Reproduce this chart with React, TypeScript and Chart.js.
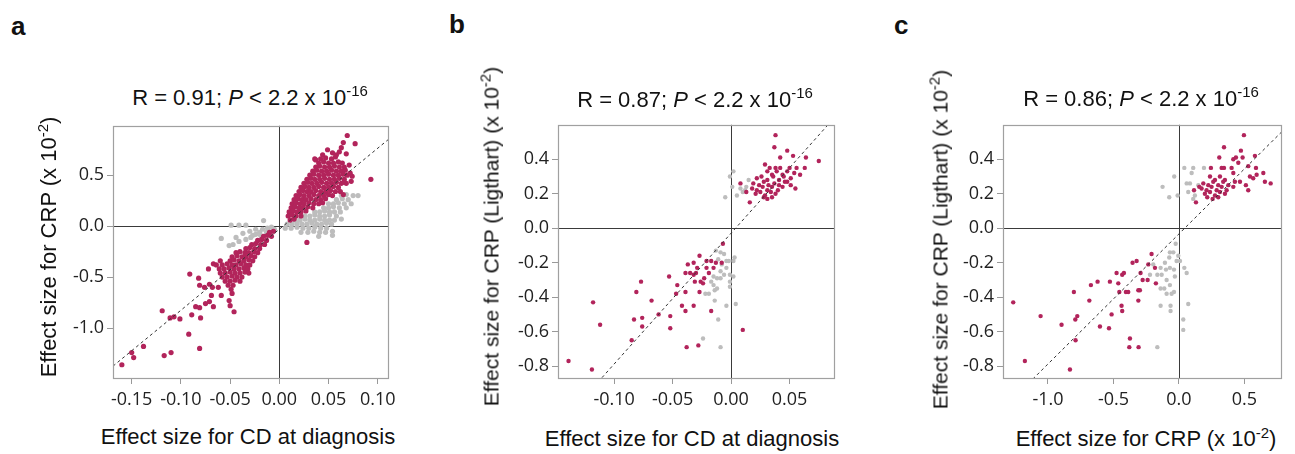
import React, { useEffect, useRef } from "react";
import { Chart, registerables } from "chart.js";

Chart.register(...registerables);

type Pt = [number, number];

// ---------- tick labels ----------
const A_X_TICKS = [-0.15, -0.1, -0.05, 0, 0.05, 0.1];
const A_Y_TICKS = [-1.0, -0.5, 0, 0.5];
const B_X_TICKS = [-0.1, -0.05, 0, 0.05];
const B_Y_TICKS = [-0.8, -0.6, -0.4, -0.2, 0, 0.2, 0.4];
const C_X_TICKS = [-1.0, -0.5, 0, 0.5];
const C_Y_TICKS = [-0.8, -0.6, -0.4, -0.2, 0, 0.2, 0.4];

// ---------- fit lines (slope, intercept) ----------
const A_FIT = [7.95, -0.03];
const B_FIT = [7.59, -0.029];
const C_FIT = [0.755, -0.033];

// ---------- panel a ----------
const A_GRAY: Pt[] = [
  [-0.059, -0.12], [-0.049, 0.01], [-0.041, 0.01], [-0.034, 0.01], [-0.016, 0.055],
  [-0.037, -0.07], [-0.03, -0.05], [-0.024, -0.03], [-0.017, -0.03], [-0.012, -0.02],
  [-0.008, -0.01], [-0.005, -0.03], [-0.013, -0.06], [-0.01, -0.07], [-0.02, -0.06],
  [-0.027, -0.09], [-0.034, -0.13], [-0.041, -0.15], [-0.047, -0.18], [-0.051, -0.19],
  [-0.044, -0.11], [-0.029, -0.11], [-0.019, -0.09], [-0.007, -0.06], [-0.024, -0.08],
  [0.063, 0.3], [0.068, 0.31], [0.075, 0.3], [0.08, 0.3],
  [0.058, 0.26], [0.064, 0.27], [0.07, 0.26],
  [0.05, 0.22], [0.055, 0.22], [0.06, 0.23], [0.066, 0.22], [0.073, 0.22],
  [0.045, 0.18], [0.05, 0.18], [0.055, 0.19], [0.061, 0.18], [0.068, 0.18],
  [0.036, 0.14], [0.041, 0.14], [0.046, 0.15], [0.051, 0.14], [0.056, 0.14], [0.062, 0.14],
  [0.026, 0.1], [0.031, 0.1], [0.036, 0.11], [0.041, 0.1], [0.046, 0.1], [0.051, 0.11], [0.058, 0.1], [0.063, 0.07],
  [0.016, 0.06], [0.021, 0.06], [0.026, 0.07], [0.031, 0.06], [0.036, 0.06], [0.041, 0.07], [0.046, 0.06], [0.051, 0.06], [0.056, 0.06],
  [0.008, 0.02], [0.013, 0.02], [0.018, 0.03], [0.023, 0.02], [0.028, 0.02], [0.033, 0.03], [0.038, 0.02], [0.043, 0.02], [0.048, 0.03], [0.053, 0.02],
  [0.006, -0.02], [0.012, -0.02], [0.018, -0.01], [0.024, -0.02], [0.03, -0.02], [0.036, -0.01], [0.042, -0.02], [0.048, -0.02],
  [0.022, -0.06], [0.029, -0.06], [0.035, -0.05], [0.041, -0.06], [0.047, -0.06], [0.054, -0.05],
  [0.04, -0.1], [0.054, -0.09],
];
const A_RED: Pt[] = [
  // upper-right cluster
  [0.036, 0.66], [0.042, 0.66], [0.047, 0.67], [0.053, 0.66],
  [0.04, 0.62], [0.045, 0.63], [0.05, 0.62], [0.055, 0.62], [0.06, 0.63], [0.064, 0.62],
  [0.037, 0.58], [0.041, 0.59], [0.046, 0.58], [0.051, 0.58], [0.056, 0.59], [0.061, 0.58], [0.066, 0.58],
  [0.034, 0.54], [0.038, 0.55], [0.043, 0.54], [0.048, 0.54], [0.053, 0.55], [0.058, 0.54], [0.063, 0.54], [0.067, 0.55],
  [0.031, 0.5], [0.035, 0.51], [0.04, 0.5], [0.045, 0.5], [0.05, 0.51], [0.055, 0.5], [0.06, 0.5], [0.065, 0.51], [0.069, 0.5],
  [0.028, 0.46], [0.032, 0.47], [0.036, 0.46], [0.041, 0.46], [0.046, 0.47], [0.051, 0.46], [0.056, 0.46], [0.061, 0.47], [0.066, 0.46],
  [0.025, 0.42], [0.029, 0.43], [0.033, 0.42], [0.038, 0.42], [0.043, 0.43], [0.048, 0.42], [0.053, 0.42], [0.058, 0.43], [0.063, 0.42], [0.068, 0.42],
  [0.022, 0.38], [0.026, 0.39], [0.03, 0.38], [0.035, 0.38], [0.04, 0.39], [0.045, 0.38], [0.05, 0.38], [0.055, 0.39], [0.06, 0.38],
  [0.02, 0.34], [0.024, 0.35], [0.028, 0.34], [0.032, 0.34], [0.037, 0.35], [0.042, 0.34], [0.047, 0.34], [0.052, 0.35], [0.057, 0.34], [0.062, 0.34],
  [0.017, 0.3], [0.021, 0.31], [0.025, 0.3], [0.03, 0.3], [0.035, 0.31], [0.04, 0.3], [0.045, 0.3], [0.05, 0.31], [0.054, 0.3],
  [0.015, 0.26], [0.019, 0.27], [0.023, 0.26], [0.027, 0.26], [0.032, 0.27], [0.037, 0.26], [0.042, 0.26], [0.047, 0.27],
  [0.013, 0.22], [0.017, 0.23], [0.021, 0.22], [0.025, 0.22], [0.03, 0.23], [0.035, 0.22], [0.04, 0.22], [0.044, 0.23],
  [0.012, 0.18], [0.016, 0.19], [0.02, 0.18], [0.024, 0.18], [0.029, 0.19], [0.034, 0.18],
  [0.01, 0.14], [0.014, 0.15], [0.018, 0.14], [0.022, 0.14], [0.027, 0.15],
  [0.009, 0.1], [0.013, 0.11], [0.017, 0.1], [0.022, 0.1],
  [0.011, 0.06], [0.015, 0.07],
  [0.069, 0.89], [0.077, 0.81], [0.065, 0.82], [0.049, 0.75], [0.061, 0.73], [0.054, 0.72], [0.068, 0.71],
  [0.093, 0.46], [0.037, 0.65], [0.074, 0.49], [0.073, 0.44], [0.066, 0.43], [0.072, 0.52], [0.028, -0.16],
  [0.065, 0.31], [0.058, 0.7], [0.044, 0.7], [0.063, 0.77], [0.071, 0.6], [0.057, 0.68],
  // lower-left tail
  [-0.16, -1.36], [-0.148, -1.29], [-0.15, -1.24], [-0.138, -1.18], [-0.117, -1.27], [-0.11, -1.24],
  [-0.081, -1.2], [-0.092, -1.06], [-0.119, -0.83], [-0.111, -0.9], [-0.107, -0.89], [-0.101, -0.91],
  [-0.089, -0.87], [-0.08, -0.9], [-0.085, -0.79], [-0.081, -0.8], [-0.075, -0.76], [-0.071, -0.74],
  [-0.067, -0.79], [-0.091, -0.47], [-0.082, -0.51], [-0.081, -0.58], [-0.076, -0.6], [-0.071, -0.57],
  [-0.072, -0.42], [-0.067, -0.37], [-0.069, -0.68], [-0.068, -0.6], [-0.062, -0.6], [-0.059, -0.68],
  [-0.051, -0.73], [-0.05, -0.78], [-0.046, -0.84], [-0.048, -0.66],
  // lower-left dense
  [-0.01, -0.06], [-0.006, -0.05],
  [-0.016, -0.1], [-0.012, -0.09], [-0.008, -0.1],
  [-0.022, -0.14], [-0.018, -0.13], [-0.013, -0.14],
  [-0.028, -0.18], [-0.024, -0.17], [-0.019, -0.18], [-0.015, -0.18],
  [-0.034, -0.22], [-0.03, -0.21], [-0.025, -0.22], [-0.02, -0.22],
  [-0.044, -0.26], [-0.04, -0.25], [-0.035, -0.26], [-0.031, -0.26], [-0.026, -0.25], [-0.022, -0.26],
  [-0.048, -0.3], [-0.043, -0.29], [-0.038, -0.3], [-0.034, -0.3], [-0.029, -0.29], [-0.025, -0.3],
  [-0.06, -0.34], [-0.05, -0.34], [-0.046, -0.33], [-0.041, -0.34], [-0.036, -0.34], [-0.031, -0.33], [-0.027, -0.34],
  [-0.064, -0.38], [-0.058, -0.38], [-0.053, -0.37], [-0.048, -0.38], [-0.044, -0.38], [-0.039, -0.37], [-0.034, -0.38], [-0.03, -0.38],
  [-0.061, -0.42], [-0.056, -0.42], [-0.051, -0.41], [-0.046, -0.42], [-0.041, -0.42], [-0.036, -0.41], [-0.032, -0.42],
  [-0.06, -0.46], [-0.055, -0.46], [-0.05, -0.45], [-0.045, -0.46], [-0.04, -0.46], [-0.035, -0.45], [-0.031, -0.46],
  [-0.058, -0.5], [-0.053, -0.5], [-0.048, -0.49], [-0.043, -0.5], [-0.038, -0.5],
  [-0.055, -0.54], [-0.05, -0.54], [-0.045, -0.53], [-0.04, -0.54],
  [-0.052, -0.58], [-0.047, -0.58], [-0.049, -0.62],
];

// ---------- panel b ----------
const B_GRAY: Pt[] = [
  [-0.001, 0.3], [0.002, 0.33], [-0.005, 0.18], [0.001, 0.24], [0.005, 0.19], [0.008, 0.23],
  [0.012, 0.22], [0.015, 0.28], [0.01, 0.21], [0.013, 0.24],
  [-0.013, -0.13], [-0.009, -0.14], [-0.006, -0.15], [-0.004, -0.19], [-0.002, -0.19], [0.003, -0.17],
  [0.002, -0.19], [-0.011, -0.18], [-0.008, -0.21], [-0.001, -0.27], [-0.001, -0.34], [-0.001, -0.31],
  [0.002, -0.28], [0.004, -0.44], [-0.014, -0.36], [-0.012, -0.35], [-0.015, -0.33], [-0.019, -0.38],
  [-0.022, -0.38], [-0.011, -0.53], [-0.004, -0.45], [-0.024, -0.64], [-0.009, -0.69], [-0.014, -0.42],
  [-0.015, -0.28], [-0.009, -0.29], [-0.006, -0.27], [-0.004, -0.23], [-0.009, -0.25], [-0.017, -0.31],
  [-0.012, -0.29],
];
const B_RED: Pt[] = [
  [0.038, 0.54], [0.037, 0.47], [0.042, 0.41], [0.048, 0.45], [0.053, 0.42], [0.064, 0.41], [0.075, 0.39],
  [0.029, 0.37], [0.033, 0.35], [0.038, 0.35], [0.042, 0.35], [0.056, 0.35], [0.063, 0.35], [0.05, 0.35],
  [0.008, 0.26], [0.013, 0.21], [0.016, 0.15], [0.031, 0.17], [0.055, 0.23], [0.059, 0.31], [0.054, 0.32],
  [0.031, 0.33], [0.035, 0.31], [0.039, 0.33], [0.044, 0.31], [0.048, 0.33],
  [0.022, 0.29], [0.026, 0.3], [0.031, 0.28], [0.036, 0.3], [0.041, 0.28], [0.045, 0.3], [0.051, 0.29],
  [0.019, 0.26], [0.024, 0.25], [0.028, 0.27], [0.032, 0.25], [0.037, 0.26], [0.041, 0.25], [0.046, 0.27], [0.051, 0.25],
  [0.018, 0.23], [0.022, 0.22], [0.027, 0.24], [0.031, 0.22], [0.035, 0.24], [0.04, 0.22], [0.044, 0.24],
  [0.021, 0.2], [0.025, 0.21], [0.029, 0.19], [0.034, 0.21], [0.038, 0.2],
  [0.028, 0.18], [0.035, 0.18], [0.048, 0.27],
  [-0.139, -0.77], [-0.119, -0.82], [-0.118, -0.43], [-0.112, -0.56], [-0.085, -0.65], [-0.083, -0.53],
  [-0.081, -0.37], [-0.077, -0.31], [-0.076, -0.52], [-0.076, -0.57], [-0.068, -0.42], [-0.062, -0.5],
  [-0.052, -0.51], [-0.052, -0.58], [-0.053, -0.28], [-0.046, -0.33], [-0.047, -0.38], [-0.042, -0.45],
  [-0.039, -0.37], [-0.039, -0.48], [-0.039, -0.26], [-0.038, -0.69], [-0.037, -0.21], [-0.032, -0.2],
  [-0.032, -0.45], [-0.032, -0.27], [-0.03, -0.26], [-0.031, -0.31], [-0.028, -0.68], [-0.027, -0.16],
  [-0.027, -0.37], [-0.026, -0.31], [-0.024, -0.32], [-0.023, -0.29], [-0.021, -0.19], [-0.021, -0.23],
  [-0.019, -0.26], [-0.017, -0.19], [-0.017, -0.48], [-0.015, -0.23], [-0.013, -0.2], [-0.008, -0.2],
  [-0.007, -0.09], [-0.029, -0.23], [-0.035, -0.26], [0.01, -0.59],
];

// ---------- panel c ----------
const C_GRAY: Pt[] = [
  [-0.036, 0.3], [-0.125, 0.24], [-0.074, 0.18], [-0.01, 0.19], [0.041, 0.35], [0.097, 0.32],
  [0.109, 0.35], [0.084, 0.26], [0.059, 0.26], [0.071, 0.21], [0.122, 0.19], [0.109, 0.17],
  [0.191, 0.35], [0.148, 0.25],
  [-0.025, -0.09], [-0.069, -0.14], [-0.043, -0.14], [-0.005, -0.16], [-0.018, -0.19], [-0.074, -0.17],
  [-0.107, -0.2], [-0.14, -0.23], [-0.099, -0.24], [-0.069, -0.23], [-0.038, -0.24], [-0.031, -0.28],
  [-0.132, -0.27], [-0.165, -0.27], [-0.094, -0.3], [-0.069, -0.33], [-0.112, -0.35], [-0.14, -0.35],
  [-0.094, -0.38], [-0.056, -0.38], [-0.038, -0.37], [0.041, -0.23], [0.059, -0.26], [0.071, -0.44],
  [0.033, -0.53], [0.033, -0.59], [-0.14, -0.45], [-0.064, -0.45], [-0.064, -0.48], [-0.165, -0.69],
  [0.008, -0.19], [-0.196, -0.21], [-0.221, -0.27],
];
const C_RED: Pt[] = [
  [0.496, 0.54], [0.344, 0.47], [0.308, 0.41], [0.435, 0.41], [0.473, 0.45], [0.58, 0.42], [0.415, 0.4],
  [0.453, 0.38], [0.486, 0.41], [0.244, 0.35], [0.326, 0.35], [0.344, 0.35], [0.402, 0.35], [0.529, 0.36],
  [0.588, 0.35], [0.644, 0.32], [0.656, 0.27], [0.7, 0.26], [0.529, 0.22], [0.115, 0.22], [0.13, 0.15],
  [0.155, 0.24], [0.567, 0.29], [0.593, 0.31], [0.511, 0.25], [0.466, 0.27], [0.415, 0.32], [0.542, 0.3],
  [0.237, 0.3], [0.275, 0.28], [0.313, 0.3], [0.351, 0.28],
  [0.186, 0.26], [0.224, 0.25], [0.262, 0.27], [0.3, 0.25], [0.338, 0.27], [0.377, 0.25], [0.427, 0.27],
  [0.173, 0.23], [0.211, 0.22], [0.249, 0.24], [0.288, 0.22], [0.326, 0.24], [0.364, 0.22], [0.415, 0.24],
  [0.198, 0.2], [0.237, 0.21], [0.275, 0.19], [0.313, 0.21], [0.351, 0.2],
  [0.216, 0.18], [0.257, 0.17], [0.3, 0.18],
  [-1.265, -0.43], [-1.176, -0.77], [-1.056, -0.51], [-0.896, -0.56], [-0.832, -0.82], [-0.802, -0.37],
  [-0.789, -0.65], [-0.791, -0.53], [-0.776, -0.51], [-0.684, -0.42], [-0.672, -0.33], [-0.621, -0.31],
  [-0.603, -0.57], [-0.534, -0.58], [-0.527, -0.31], [-0.514, -0.5], [-0.476, -0.26], [-0.463, -0.32],
  [-0.455, -0.37], [-0.433, -0.27], [-0.42, -0.26], [-0.438, -0.45], [-0.433, -0.48], [-0.405, -0.37],
  [-0.387, -0.37], [-0.379, -0.69], [-0.374, -0.64], [-0.354, -0.2], [-0.323, -0.19], [-0.31, -0.36],
  [-0.298, -0.36], [-0.308, -0.69], [-0.31, -0.42], [-0.293, -0.26], [-0.277, -0.3], [-0.239, -0.3],
  [-0.234, -0.21], [-0.209, -0.15], [-0.183, -0.23], [-0.176, -0.32],
];

const RED = "#B2245B";
const GRAY = "#BDBDBD";
const FONT = "'Liberation Sans', Arial, Helvetica, sans-serif";
const TICK_FONT = "'Open Sans', sans-serif";

const framePlugin = {
  id: "frame",
  beforeDatasetsDraw(chart: any) {
    const { ctx, chartArea: a, scales } = chart;
    const x0 = Math.round(scales.x.getPixelForValue(0)) + 0.5;
    const y0 = Math.round(scales.y.getPixelForValue(0)) + 0.5;
    ctx.save();
    ctx.strokeStyle = "#3a3a3a";
    ctx.lineWidth = 1;
    ctx.beginPath();
    ctx.moveTo(x0, a.top);
    ctx.lineTo(x0, a.bottom);
    ctx.moveTo(a.left, y0);
    ctx.lineTo(a.right, y0);
    ctx.stroke();
    ctx.restore();
  },
  afterDraw(chart: any) {
    const { ctx, chartArea: a } = chart;
    ctx.save();
    ctx.strokeStyle = "#a0a0a0";
    ctx.lineWidth = 1.2;
    ctx.strokeRect(Math.round(a.left) + 0.5, Math.round(a.top) + 0.5, Math.round(a.right - a.left), Math.round(a.bottom - a.top));
    ctx.restore();
  },
};

interface PanelProps {
  left: number; top: number; width: number; height: number;
  xMin: number; xMax: number; yMin: number; yMax: number;
  xTicks: number[]; yTicks: number[]; xDec: number; yDec: number;
  gray: Pt[]; red: Pt[]; fit: number[]; radius: number;
}

function Panel(p: PanelProps) {
  const ref = useRef<HTMLCanvasElement | null>(null);
  useEffect(() => {
    if (!ref.current) return;
    const [m, b] = p.fit;
    const lineData = [
      { x: p.xMin, y: m * p.xMin + b },
      { x: p.xMax, y: m * p.xMax + b },
    ];
    const toXY = (arr: Pt[]) => arr.map(([x, y]) => ({ x, y }));
    const tickFont = { family: TICK_FONT, size: 18 };
    const chart = new Chart(ref.current, {
      type: "scatter",
      data: {
        datasets: [
          {
            type: "line", data: lineData, borderColor: "#333", borderWidth: 1,
            borderDash: [3, 3], pointRadius: 0, fill: false,
          } as any,
          {
            data: toXY(p.red), backgroundColor: RED, pointBackgroundColor: RED,
            pointBorderWidth: 0, borderWidth: 0, pointRadius: p.radius,
          },
          {
            data: toXY(p.gray), backgroundColor: GRAY, pointBackgroundColor: GRAY,
            pointBorderWidth: 0, borderWidth: 0, pointRadius: p.radius,
          },
        ],
      },
      options: {
        animation: false,
        responsive: false,
        devicePixelRatio: 1,
        events: [],
        layout: { padding: { top: 10, right: 12, bottom: 0, left: 0 }, autoPadding: false } as any,
        plugins: { legend: { display: false }, tooltip: { enabled: false } },
        scales: {
          x: {
            type: "linear", min: p.xMin, max: p.xMax,
            border: { display: false },
            grid: { drawOnChartArea: false, drawTicks: true, tickLength: 6, color: "#999" },
            ticks: {
              autoSkip: false, maxRotation: 0, padding: 5, color: "#222", font: tickFont,
              callback: (v: any) => Number(v).toFixed(p.xDec),
            },
            afterBuildTicks: (s: any) => { s.ticks = p.xTicks.map((v) => ({ value: v })); },
            afterFit: (s: any) => { s.height = 40; },
          },
          y: {
            type: "linear", min: p.yMin, max: p.yMax,
            border: { display: false },
            grid: { drawOnChartArea: false, drawTicks: true, tickLength: 6, color: "#999" },
            ticks: {
              autoSkip: false, padding: 3, color: "#222", font: tickFont,
              callback: (v: any) => Number(v).toFixed(p.yDec),
            },
            afterBuildTicks: (s: any) => { s.ticks = p.yTicks.map((v) => ({ value: v })); },
            afterFit: (s: any) => { s.width = 60; },
          },
        },
      } as any,
      plugins: [framePlugin],
    });
    return () => chart.destroy();
  }, []);
  return (
    <canvas
      ref={ref}
      width={p.width}
      height={p.height}
      style={{ position: "absolute", left: p.left, top: p.top, width: p.width, height: p.height }}
    />
  );
}

const ASC = 0.8465; // baseline offset (Liberation Sans) with line-height = font-size

function HText(props: { cx: number; base: number; size: number; children: any }) {
  const { cx, base, size } = props;
  return (
    <div
      style={{
        position: "absolute", left: cx - 400, top: base - ASC * size, width: 800,
        textAlign: "center", fontSize: size, lineHeight: size + "px", whiteSpace: "nowrap",
        color: "#111",
      }}
    >
      {props.children}
    </div>
  );
}

function VText(props: { base: number; cy: number; size: number; children: any }) {
  const { base, cy, size } = props;
  const cx = base - (ASC - 0.5) * size;
  return (
    <div
      style={{
        position: "absolute", left: cx - 300, top: cy - size / 2, width: 600, height: size,
        textAlign: "center", fontSize: size, lineHeight: size + "px", whiteSpace: "nowrap",
        transform: "rotate(-90deg)", transformOrigin: "50% 50%", color: "#111",
      }}
    >
      {props.children}
    </div>
  );
}

function Sup(props: { children: any; size?: number; rise?: number }) {
  return (
    <span style={{ fontSize: props.size ?? 15, position: "relative", top: -(props.rise ?? 9), lineHeight: 0 }}>
      {props.children}
    </span>
  );
}

function Letter(props: { x: number; base: number; children: any }) {
  const size = 26;
  return (
    <div
      style={{
        position: "absolute", left: props.x, top: props.base - ASC * size, fontSize: size,
        lineHeight: size + "px", fontWeight: "bold", color: "#111",
      }}
    >
      {props.children}
    </div>
  );
}

export default function App() {
  return (
    <div
      style={{
        position: "absolute", left: 0, top: 0, width: 1295, height: 454,
        background: "#fff", fontFamily: FONT, overflow: "hidden",
      }}
    >
      <Panel left={53} top={112} width={348} height={306}
        xMin={-0.169} xMax={0.1105} yMin={-1.49} yMax={0.985}
        xTicks={A_X_TICKS} yTicks={A_Y_TICKS} xDec={2} yDec={1}
        gray={A_GRAY} red={A_RED} fit={A_FIT} radius={2.6} />
      <Panel left={498} top={111} width={348} height={307}
        xMin={-0.148} xMax={0.088} yMin={-0.869} yMax={0.6}
        xTicks={B_X_TICKS} yTicks={B_Y_TICKS} xDec={2} yDec={1}
        gray={B_GRAY} red={B_RED} fit={B_FIT} radius={2.2} />
      <Panel left={943} top={111} width={350} height={307}
        xMin={-1.343} xMax={0.779} yMin={-0.869} yMax={0.6}
        xTicks={C_X_TICKS} yTicks={C_Y_TICKS} xDec={1} yDec={1}
        gray={C_GRAY} red={C_RED} fit={C_FIT} radius={2.2} />

      <Letter x={11} base={35}>a</Letter>
      <Letter x={449} base={33}>b</Letter>
      <Letter x={894} base={34}>c</Letter>

      <HText cx={250} base={106} size={22}>
        R = 0.91; <i>P</i> &lt; 2.2 x 10<Sup>-16</Sup>
      </HText>
      <HText cx={695} base={108} size={22}>
        R = 0.87; <i>P</i> &lt; 2.2 x 10<Sup>-16</Sup>
      </HText>
      <HText cx={1141} base={107} size={22}>
        R = 0.86; <i>P</i> &lt; 2.2 x 10<Sup>-16</Sup>
      </HText>

      <HText cx={248} base={445} size={22}>Effect size for CD at diagnosis</HText>
      <HText cx={692} base={447} size={22}>Effect size for CD at diagnosis</HText>
      <HText cx={1146} base={447} size={22}>
        Effect size for CRP (x 10<Sup rise={8}>-2</Sup>)
      </HText>

      <VText base={57} cy={247} size={22}>
        Effect size for CRP (x 10<Sup rise={8}>-2</Sup>)
      </VText>
      <VText base={498} cy={236} size={21}>
        Effect size for CRP (Ligthart) (x 10<Sup rise={8}>-2</Sup>)
      </VText>
      <VText base={947} cy={239} size={21}>
        Effect size for CRP (Ligthart) (x 10<Sup rise={8}>-2</Sup>)
      </VText>
    </div>
  );
}
